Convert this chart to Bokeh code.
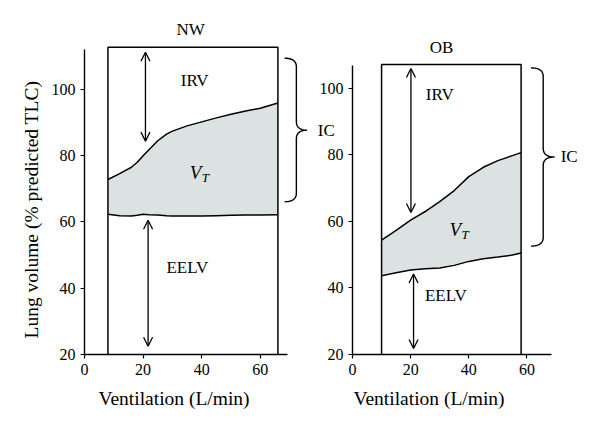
from bokeh.plotting import figure
from bokeh.layouts import row
from bokeh.models import Range1d, FixedTicker, Arrow, OpenHead, ColumnDataSource, Title
from bokeh.core.properties import value
from bokeh.embed import file_html
from bokeh.resources import INLINE

FONT = "Liberation Serif"

# ---------------- data ----------------
nw_vent = [8, 12, 16, 18, 20, 22, 25, 28, 30, 35, 40, 45, 50, 55, 60, 66]
nw_eilv = [72.8, 74.6, 76.5, 78.0, 80.0, 81.8, 84.5, 86.5, 87.4, 89.0, 90.2, 91.4, 92.5, 93.5, 94.3, 95.9]
nw_eelv = [62.3, 61.9, 61.8, 62.0, 62.3, 62.2, 62.1, 61.9, 61.8, 61.8, 61.8, 61.9, 62.0, 62.1, 62.1, 62.2]

ob_vent = [10, 15, 20, 25, 30, 35, 40, 45, 50, 55, 58]
ob_eilv = [54.4, 57.3, 60.4, 63.0, 66.0, 69.3, 73.5, 76.3, 78.3, 79.8, 80.7]
ob_eelv = [43.7, 44.6, 45.4, 45.8, 46.0, 46.8, 48.0, 48.8, 49.3, 49.9, 50.5]

# exercise window (ventilation span, lung volume top)
nw_box = [8, 66, 112.7]
ob_box = [10, 58, 107.2]

# double arrows: x, y_start, y_end
nw_arrows = {"x": [20.8, 21.7], "y0": [111.2, 60.5], "y1": [84.4, 22.5]}
ob_arrows = {"x": [20.1, 21.0], "y0": [106.0, 44.2], "y1": [62.7, 21.8]}

# IC brace: x_hook, x_main, x_tip, y_bottom, y_tip, y_top
nw_brace = [68.3, 72.3, 76.0, 66.1, 87.7, 109.4]
ob_brace = [61.4, 65.6, 69.5, 52.6, 79.4, 106.2]

x_ticks = [0, 20, 40, 60]
y_ticks = [20, 40, 60, 80, 100]

# text labels
nw_titles = {"x": [36.2], "y": [118.2], "t": ["NW"]}
nw_labels = {"x": [37.6, 35.1], "y": [102.8, 46.2], "t": ["IRV", "EELV"]}
nw_vt = [35.9, 74.9]
nw_ic = [79.6, 87.7]

ob_titles = {"x": [30.6], "y": [112.3], "t": ["OB"]}
ob_labels = {"x": [30.0, 32.1], "y": [98.3, 37.6], "t": ["IRV", "EELV"]}
ob_vt = [33.4, 57.7]
ob_ic = [71.6, 79.4]

x_label = "Ventilation (L/min)"
y_label = "Lung volume (% predicted TLC)"


def brace_path(b, r=2.6):
    xh, xm, xt, yb, ym, yt = b
    xs, ys = [], []

    def quad(p0, c, p1, n=12):
        for i in range(n + 1):
            s = i / n
            xs.append((1 - s) ** 2 * p0[0] + 2 * (1 - s) * s * c[0] + s ** 2 * p1[0])
            ys.append((1 - s) ** 2 * p0[1] + 2 * (1 - s) * s * c[1] + s ** 2 * p1[1])

    quad((xh, yt), (xm, yt), (xm, yt - r))
    quad((xm, ym + r), (xm, ym), (xt, ym))
    quad((xt, ym), (xm, ym), (xm, ym - r))
    quad((xm, yb + r), (xm, yb), (xh, yb))
    return xs, ys


def panel(width, xr, yr, border_left, border_right, ybound, xbound, xlab_offset, ylab_offset,
          vent, top, bot, box, arrows, brace, titles, labels, vt, ic):
    p = figure(width=width, height=421, x_range=Range1d(0, xr), y_range=Range1d(20, yr),
               min_border_left=border_left, min_border_right=border_right,
               min_border_top=15, min_border_bottom=67,
               output_backend="svg", toolbar_location=None)
    p.outline_line_color = None
    p.xgrid.grid_line_color = None
    p.ygrid.grid_line_color = None
    p.background_fill_color = "white"
    p.border_fill_alpha = 0

    for ax in (p.xaxis[0], p.yaxis[0]):
        ax.axis_line_color = "black"
        ax.axis_line_width = 1.4
        ax.major_tick_line_color = "black"
        ax.major_tick_line_width = 1.2
        ax.major_tick_in = 0
        ax.major_tick_out = 4
        ax.minor_tick_line_color = None
        ax.major_label_text_font = FONT
        ax.major_label_text_font_size = "16px"
        ax.major_label_text_color = "black"
    p.xaxis.ticker = FixedTicker(ticks=x_ticks)
    p.yaxis.ticker = FixedTicker(ticks=y_ticks)
    p.xaxis.bounds = (0, xbound)
    p.yaxis.bounds = (20, ybound)
    p.xaxis.major_label_standoff = 5
    p.yaxis.major_label_standoff = 5

    # axis titles placed to match the original's offsets
    p.add_layout(Title(text=x_label, align="left", offset=xlab_offset, text_font=FONT,
                       text_font_size="19.5px", text_font_style="normal", text_color="black",
                       standoff=16), "below")
    if ylab_offset is not None:
        p.add_layout(Title(text=y_label, align="left", offset=ylab_offset, text_font=FONT,
                           text_font_size="19.5px", text_font_style="normal", text_color="black",
                           standoff=14), "left")

    # shaded tidal volume region
    p.varea(x=vent, y1=bot, y2=top, fill_color="#dce2e1")
    p.line(vent, top, line_color="black", line_width=1.5)
    p.line(vent, bot, line_color="black", line_width=1.5)

    # exercise window box
    x0, x1, ytop = box
    p.line([x0, x0, x1, x1], [20, ytop, ytop, 20], line_color="black", line_width=1.5)

    # arrows
    src = ColumnDataSource(arrows)
    p.add_layout(Arrow(x_start="x", y_start="y0", x_end="x", y_end="y1", source=src,
                       line_color="black", line_width=1.3,
                       start=OpenHead(size=9, line_width=1.3, line_color="black"),
                       end=OpenHead(size=9, line_width=1.3, line_color="black")))

    # IC brace
    bx, by = brace_path(brace)
    p.line(bx, by, line_color="black", line_width=1.4)

    tf = value(FONT)
    p.text(x=titles["x"], y=titles["y"], text=titles["t"], text_font=tf,
           text_font_size="17px", text_align="center", text_baseline="middle", text_color="black")
    p.text(x=labels["x"], y=labels["y"], text=labels["t"], text_font=tf,
           text_font_size="17px", text_align="center", text_baseline="middle", text_color="black")
    p.text(x=[vt[0]], y=[vt[1]], text=["V"], text_font=tf, text_font_style="italic",
           text_font_size="19px", text_align="left", text_baseline="middle", text_color="black")
    p.text(x=[vt[0]], y=[vt[1]], text=["T"], text_font=tf, text_font_style="italic",
           text_font_size="13px", text_align="left", text_baseline="middle", text_color="black",
           x_offset=12, y_offset=5)
    p.text(x=[ic[0]], y=[ic[1]], text=["IC"], text_font=tf,
           text_font_size="17px", text_align="left", text_baseline="middle", text_color="black")
    return p


p1 = panel(345, 87.7, 122.3, 84, 4, 112, 69.4, 14, 16,
           nw_vent, nw_eilv, nw_eelv, nw_box, nw_arrows, nw_brace, nw_titles, nw_labels, nw_vt, nw_ic)
p2 = panel(287, 81.87, 121.95, 47, 2, 107, 68.6, 1, None,
           ob_vent, ob_eilv, ob_eelv, ob_box, ob_arrows, ob_brace, ob_titles, ob_labels, ob_vt, ob_ic)
p2.margin = (0, 0, 0, -40)

layout = row(p1, p2)
open("out.html", "w").write(file_html(layout, INLINE))
